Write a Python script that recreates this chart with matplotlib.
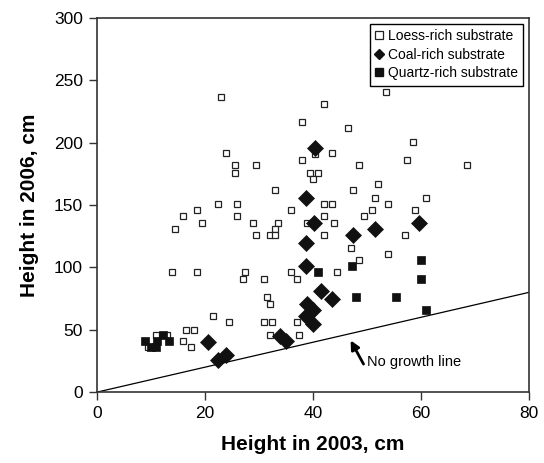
import matplotlib
matplotlib.use("Agg")
import matplotlib.pyplot as plt
from matplotlib.lines import Line2D

plt.rcParams['font.family'] = ['Liberation Sans', 'DejaVu Sans']

# Loess-rich substrate (open squares)
loess_x = [23, 24, 25.5, 25.5, 29.5, 38, 42, 46.5, 53.5, 58.5, 57.5, 68.5, 40.5, 43.5,
           38, 48.5, 39.5, 41, 40, 33, 47.5, 52, 51.5, 61, 42, 43.5, 54, 22.5, 26,
           18.5, 36, 51, 59, 16, 26, 42, 49.5, 19.5, 29, 33.5, 39, 44, 14.5, 33,
           29.5, 32, 33, 42, 57, 47, 54, 48.5, 14, 18.5, 27.5, 36, 44.5, 27, 31, 37,
           31.5, 32, 21.5, 24.5, 31, 32.5, 37, 16.5, 18, 32, 37.5, 16, 17.5, 11, 13, 9.5]
loess_y = [237, 192, 182, 176, 182, 217, 231, 212, 241, 201, 186, 182, 191, 192,
           186, 182, 176, 176, 171, 162, 162, 167, 156, 156, 151, 151, 151, 151, 151,
           146, 146, 146, 146, 141, 141, 141, 141, 136, 136, 136, 136, 136, 131, 131,
           126, 126, 126, 126, 126, 116, 111, 106, 96, 96, 96, 96, 96, 91, 91, 91,
           76, 71, 61, 56, 56, 56, 56, 50, 50, 46, 46, 41, 36, 46, 46, 36]

# Coal-rich substrate (diamonds)
coal_x = [40.5, 38.7, 40.2, 59.6, 47.5, 51.5, 38.7, 38.7, 41.5, 43.5, 39, 40, 38.8, 40,
          34, 35, 20.5, 22.5, 24]
coal_y = [196, 156, 136, 136, 126, 131, 120, 101, 81, 75, 71, 66, 61, 55,
          45, 41, 40, 26, 30]

# Quartz-rich substrate (filled squares)
quartz_x = [9, 10, 11, 11.2, 12.2, 13.3, 41, 47.3, 48, 55.5, 60, 60, 61]
quartz_y = [41, 36.5, 36.5, 41, 46, 41, 96, 101, 76, 76, 106, 91, 66]

# no growth line (2006 height = 2003 height)
line_x = [0, 80]
line_y = [0, 80]

fig = plt.figure(figsize=(5.44, 4.63), dpi=100)
ax = fig.add_axes([0.178, 0.153, 0.794, 0.808])

ax.plot(line_x, line_y, color='black', lw=0.9, zorder=1)
ax.plot(loess_x, loess_y, ls='none', marker='s', ms=5, mfc='white', mec='#222222',
        mew=0.9, zorder=2)
ax.plot(coal_x, coal_y, ls='none', marker='D', ms=8.5, mfc='#111111', mec='#111111',
        mew=0.5, zorder=3)
ax.plot(quartz_x, quartz_y, ls='none', marker='s', ms=5.5, mfc='#111111', mec='#111111',
        mew=0.5, zorder=4)

ax.annotate('', xy=(47.0, 41.5), xytext=(49.4, 22.5),
            arrowprops=dict(arrowstyle='-|>', color='black', lw=2.0, mutation_scale=13,
                            shrinkA=0, shrinkB=0))
ax.text(50.1, 24.0, 'No growth line', fontsize=10.5, va='center', ha='left')

ax.set_xlim(0, 80)
ax.set_ylim(0, 300)
ax.set_xticks([0, 20, 40, 60, 80])
ax.set_yticks([0, 50, 100, 150, 200, 250, 300])
ax.tick_params(direction='out', length=6, width=1, labelsize=12.5, pad=4, color='#333333')
for s in ax.spines.values():
    s.set_color('#333333')
    s.set_linewidth(1.2)

ax.set_xlabel('Height in 2003, cm', fontsize=15, fontweight='bold', labelpad=10)
ax.set_ylabel('Height in 2006, cm', fontsize=15, fontweight='bold', labelpad=11)

handles = [
    Line2D([], [], ls='none', marker='s', ms=5.5, mfc='white', mec='#222222', mew=0.9),
    Line2D([], [], ls='none', marker='D', ms=5.5, mfc='#111111', mec='#111111'),
    Line2D([], [], ls='none', marker='s', ms=5.5, mfc='#111111', mec='#111111'),
]
labels = ['Loess-rich substrate', 'Coal-rich substrate', 'Quartz-rich substrate']
leg = ax.legend(handles, labels, loc='upper right', fontsize=10, handlelength=0.6,
                handletextpad=0.3, borderpad=0.4, labelspacing=0.32,
                borderaxespad=0.4, fancybox=False, framealpha=1, edgecolor='black')
leg.get_frame().set_linewidth(1.0)

fig.savefig('out.png', dpi=100)
